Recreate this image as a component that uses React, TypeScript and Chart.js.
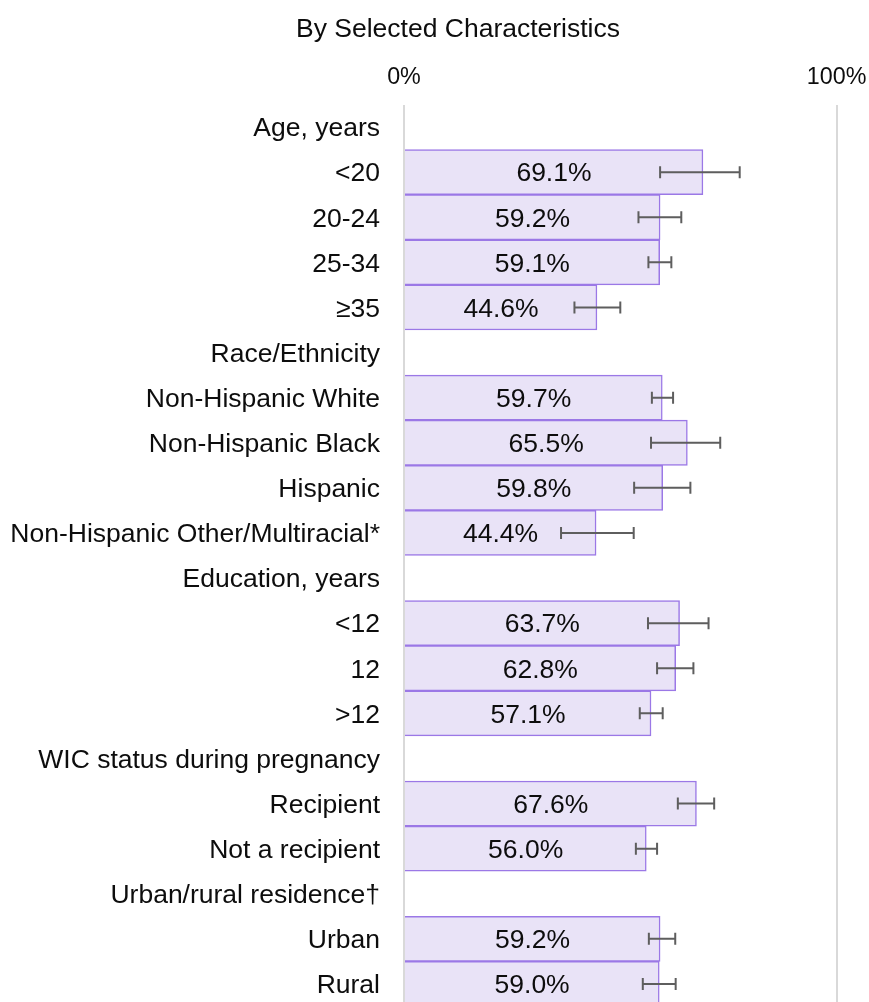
import React, { useEffect, useRef } from "react";
import { Chart, registerables } from "chart.js";

Chart.register(...registerables);

// Row labels: group headers carry no bar
const categories: string[] = [
  "Age, years",
  "<20",
  "20-24",
  "25-34",
  "≥35",
  "Race/Ethnicity",
  "Non-Hispanic White",
  "Non-Hispanic Black",
  "Hispanic",
  "Non-Hispanic Other/Multiracial*",
  "Education, years",
  "<12",
  "12",
  ">12",
  "WIC status during pregnancy",
  "Recipient",
  "Not a recipient",
  "Urban/rural residence†",
  "Urban",
  "Rural",
];

// Prevalence (%)
const values: (number | null)[] = [
  null, 69.1, 59.2, 59.1, 44.6,
  null, 59.7, 65.5, 59.8, 44.4,
  null, 63.7, 62.8, 57.1,
  null, 67.6, 56.0,
  null, 59.2, 59.0,
];

// 95% confidence interval bounds (%)
const ciLower: (number | null)[] = [
  null, 59.2, 54.2, 56.5, 39.4,
  null, 57.3, 57.1, 53.2, 36.3,
  null, 56.4, 58.5, 54.5,
  null, 63.3, 53.6,
  null, 56.6, 55.2,
];
const ciUpper: (number | null)[] = [
  null, 77.6, 64.1, 61.8, 50.0,
  null, 62.2, 73.1, 66.2, 53.1,
  null, 70.4, 66.9, 59.8,
  null, 71.7, 58.5,
  null, 62.7, 62.8,
];

const axisTicks: number[] = [0, 100];

const titleText = "By Selected Characteristics";

const FONT = "'Liberation Sans', Arial, Helvetica, sans-serif";
const TEXT_COLOR = "#0d0d0d";

// Heading drawn above the axis, offset slightly right of the canvas centre
const headingPlugin = {
  id: "heading",
  afterDraw(chart: any) {
    const ctx = chart.ctx;
    ctx.save();
    ctx.fillStyle = TEXT_COLOR;
    ctx.font = `26.5px ${FONT}`;
    ctx.textAlign = "center";
    ctx.textBaseline = "middle";
    ctx.fillText(titleText, chart.width / 2 + 23.5, 29.4);
    ctx.restore();
  },
};

const errorBarPlugin = {
  id: "errorBars",
  afterDatasetsDraw(chart: any) {
    const xScale = chart.scales.x;
    const meta = chart.getDatasetMeta(0);
    const ctx = chart.ctx;
    ctx.save();
    ctx.strokeStyle = "#5e5e5e";
    ctx.lineWidth = 2;
    meta.data.forEach((bar: any, i: number) => {
      const lo = ciLower[i];
      const hi = ciUpper[i];
      if (lo == null || hi == null) return;
      const x1 = xScale.getPixelForValue(lo);
      const x2 = xScale.getPixelForValue(hi);
      const y = bar.y;
      const cap = 6;
      ctx.beginPath();
      ctx.moveTo(x1, y);
      ctx.lineTo(x2, y);
      ctx.moveTo(x1, y - cap);
      ctx.lineTo(x1, y + cap);
      ctx.moveTo(x2, y - cap);
      ctx.lineTo(x2, y + cap);
      ctx.stroke();
    });
    ctx.restore();
  },
};

const valueLabelPlugin = {
  id: "valueLabels",
  afterDatasetsDraw(chart: any) {
    const meta = chart.getDatasetMeta(0);
    const ctx = chart.ctx;
    ctx.save();
    ctx.fillStyle = TEXT_COLOR;
    ctx.font = `26.5px ${FONT}`;
    ctx.textAlign = "center";
    ctx.textBaseline = "middle";
    meta.data.forEach((bar: any, i: number) => {
      const v = values[i];
      if (v == null) return;
      const cx = (bar.base + bar.x) / 2;
      ctx.fillText(`${v.toFixed(1)}%`, cx, bar.y + 2);
    });
    ctx.restore();
  },
};

export default function App() {
  const canvasRef = useRef<HTMLCanvasElement | null>(null);

  useEffect(() => {
    const canvas = canvasRef.current;
    if (!canvas) return;
    const chart = new Chart(canvas, {
      type: "bar",
      data: {
        labels: categories,
        datasets: [
          {
            data: values as any,
            backgroundColor: "#e9e3f7",
            borderColor: "#9b78e6",
            borderWidth: 1.5,
            barPercentage: 1,
            categoryPercentage: 1,
          },
        ],
      },
      options: {
        indexAxis: "y",
        responsive: false,
        animation: false,
        devicePixelRatio: 1,
        layout: { padding: { left: 0, right: 0, top: 40, bottom: 3.5 } },
        plugins: {
          legend: { display: false },
          tooltip: { enabled: false },
          title: { display: false },
        },
        scales: {
          x: {
            position: "top",
            min: 0,
            max: 100,
            afterBuildTicks(scale: any) {
              scale.ticks = axisTicks.map((v) => ({ value: v }));
            },
            afterFit(scale: any) {
              scale.height = 64.5;
              scale.paddingLeft = 0;
              scale.paddingRight = 32.4;
            },
            ticks: {
              color: TEXT_COLOR,
              font: { family: FONT, size: 23.3 },
              padding: 12.7,
              callback: (v: any) => `${v}%`,
            },
            grid: {
              color: "#d9d9d9",
              lineWidth: 2,
              drawTicks: false,
            },
            border: { display: false },
          },
          y: {
            afterFit(scale: any) {
              scale.width = 404;
              scale.paddingTop = 0;
              scale.paddingBottom = 0;
            },
            ticks: {
              autoSkip: false,
              color: TEXT_COLOR,
              font: { family: FONT, size: 26.5 },
              padding: 24,
              labelOffset: 2,
            },
            grid: { display: false, drawTicks: false },
            border: { display: false },
          },
        },
      },
      plugins: [errorBarPlugin, valueLabelPlugin, headingPlugin],
    });
    return () => chart.destroy();
  }, []);

  return (
    <div
      style={{
        position: "fixed",
        left: 0,
        top: 0,
        width: 869,
        height: 1002,
        overflow: "hidden",
        background: "#ffffff",
      }}
    >
      <canvas
        ref={canvasRef}
        width={869}
        height={1010}
        style={{ display: "block", width: 869, height: 1010 }}
      />
    </div>
  );
}
